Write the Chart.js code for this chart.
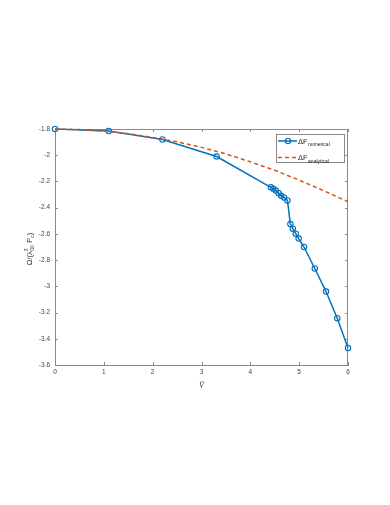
<!DOCTYPE html>
<html><head><meta charset="utf-8">
<script src="https://cdn.jsdelivr.net/npm/chart.js@4"></script>
<style>html,body{margin:0;padding:0;background:#fff;} canvas{display:block}</style>
</head><body>
<canvas id="c" width="390" height="505"></canvas>
<script>
const numX = [0, 1.1, 2.2, 3.31, 4.42, 4.47, 4.52, 4.58, 4.63, 4.69, 4.76, 4.82, 4.87, 4.93, 4.99, 5.10, 5.32, 5.55, 5.78, 6.0];
const numY = [-1.80, -1.815, -1.88, -2.01, -2.245, -2.255, -2.27, -2.29, -2.31, -2.322, -2.345, -2.525, -2.56, -2.598, -2.636, -2.70, -2.864, -3.04, -3.243, -3.47];
const anaX = [0, 0.5, 1, 1.5, 2, 2.5, 3, 3.5, 4, 4.5, 5, 5.5, 6];
const anaY = [-1.80, -1.804, -1.816, -1.836, -1.864, -1.898, -1.94, -1.99, -2.05, -2.115, -2.19, -2.27, -2.355];
const xTickValues = [0, 1, 2, 3, 4, 5, 6];
const yTickValues = [-1.8, -2, -2.2, -2.4, -2.6, -2.8, -3, -3.2, -3.4, -3.6];
const legendMain = ['\u0394F', '\u0394F'];
const legendSub = ['numerical', 'analytical'];

const BLUE = '#0072BD', ORANGE = '#D95319', AX = '#8a8a8a', TXT = '#444';
const FONT = '"Liberation Sans", Arial, sans-serif';

const framePlugin = {
  id: 'frame',
  beforeDatasetsDraw(chart) {
    const {ctx, chartArea: a, scales: {x, y}} = chart;
    ctx.save();
    ctx.strokeStyle = AX; ctx.lineWidth = 1;
    ctx.beginPath();
    ctx.moveTo(a.left, a.top + 0.5); ctx.lineTo(a.right, a.top + 0.5);
    ctx.moveTo(a.right - 0.5, a.top); ctx.lineTo(a.right - 0.5, a.bottom);
    xTickValues.forEach(v => {
      const p = Math.round(x.getPixelForValue(v)) + 0.5;
      ctx.moveTo(p, a.bottom); ctx.lineTo(p, a.bottom - 3);
      ctx.moveTo(p, a.top); ctx.lineTo(p, a.top + 3);
    });
    yTickValues.forEach(v => {
      const p = Math.round(y.getPixelForValue(v)) + 0.5;
      ctx.moveTo(a.left, p); ctx.lineTo(a.left + 3, p);
      ctx.moveTo(a.right, p); ctx.lineTo(a.right - 3, p);
    });
    ctx.stroke();
    ctx.restore();
  },
  afterDraw(chart) {
    const {ctx, chartArea: a} = chart;
    ctx.save();
    // legend
    const bx = 276.5, by = 134.5, bw = 68, bh = 28;
    ctx.fillStyle = '#fff'; ctx.fillRect(bx, by, bw, bh);
    ctx.strokeStyle = AX; ctx.lineWidth = 1; ctx.strokeRect(bx, by, bw, bh);
    const rows = [141, 157.5];
    ctx.strokeStyle = BLUE; ctx.lineWidth = 1.5; ctx.setLineDash([]);
    ctx.beginPath(); ctx.moveTo(278, rows[0]); ctx.lineTo(297, rows[0]); ctx.stroke();
    ctx.beginPath(); ctx.arc(288, rows[0], 2.7, 0, Math.PI * 2); ctx.lineWidth = 1.1; ctx.stroke();
    ctx.strokeStyle = ORANGE; ctx.lineWidth = 1.5; ctx.setLineDash([4, 3]);
    ctx.beginPath(); ctx.moveTo(278, rows[1]); ctx.lineTo(297, rows[1]); ctx.stroke();
    ctx.setLineDash([]);
    ctx.fillStyle = '#222'; ctx.textBaseline = 'alphabetic'; ctx.textAlign = 'left';
    for (let i = 0; i < 2; i++) {
      ctx.font = '7.5px ' + FONT;
      ctx.fillText(legendMain[i], 298, rows[i] + 2.6);
      const w = ctx.measureText(legendMain[i]).width;
      ctx.font = '5px ' + FONT;
      ctx.fillText(legendSub[i], 298 + w + 0.5, rows[i] + 5);
    }
    // y title
    ctx.save();
    ctx.translate(32, 249); ctx.rotate(-Math.PI / 2);
    ctx.fillStyle = '#333';
    const parts = [
      {t: '\u03A9/(\u03BB', s: 7.5, dy: 0},
      {stack: [{t: '3', s: 5, dy: -4}, {t: 'D0', s: 5, dy: 2.2}]},
      {t: ' P', s: 7.5, dy: 0},
      {t: 'c', s: 5, dy: 2.2},
      {t: ')', s: 7.5, dy: 0}
    ];
    const wOf = p => { ctx.font = p.s + 'px ' + FONT; return ctx.measureText(p.t).width; };
    let total = 0;
    parts.forEach(p => { p.w = p.stack ? Math.max(...p.stack.map(wOf)) : wOf(p); total += p.w; });
    let cx = -total / 2;
    parts.forEach(p => {
      const items = p.stack || [p];
      items.forEach(q => { ctx.font = q.s + 'px ' + FONT; ctx.fillText(q.t, cx, q.dy); });
      cx += p.w;
    });
    ctx.restore();
    // x title
    ctx.font = 'italic 8px "Liberation Serif", serif';
    ctx.textAlign = 'center'; ctx.fillStyle = '#333';
    ctx.fillText('V\u0303', (a.left + a.right) / 2, 388);
    ctx.restore();
  }
};

const tickFont = {family: FONT, size: 6.5};
new Chart(document.getElementById('c'), {
  type: 'scatter',
  data: {
    datasets: [
      {
        label: 'analytical',
        data: anaX.map((v, i) => ({x: v, y: anaY[i]})),
        showLine: true, borderColor: ORANGE, borderWidth: 1.5, borderDash: [4, 3],
        pointRadius: 0, clip: false, tension: 0
      },
      {
        label: 'numerical',
        data: numX.map((v, i) => ({x: v, y: numY[i]})),
        showLine: true, borderColor: BLUE, borderWidth: 1.5,
        pointRadius: 2.7, pointBorderWidth: 1.1, pointBorderColor: BLUE,
        pointBackgroundColor: 'rgba(0,0,0,0)', clip: false, tension: 0
      }
    ]
  },
  options: {
    responsive: false, devicePixelRatio: 1, animation: false,
    layout: {padding: {left: 0, top: 129, right: 42, bottom: 0}},
    plugins: {legend: {display: false}, tooltip: {enabled: false}, title: {display: false}},
    scales: {
      x: {
        type: 'linear', min: 0, max: 6,
        grid: {display: false, drawTicks: false},
        border: {display: true, color: AX, width: 1},
        ticks: {font: tickFont, color: TXT, padding: 3, maxRotation: 0, callback: v => String(v)},
        afterBuildTicks: s => { s.ticks = xTickValues.map(v => ({value: v})); },
        afterFit: s => { s.height = 140; }
      },
      y: {
        type: 'linear', min: -3.6, max: -1.8,
        grid: {display: false, drawTicks: false},
        border: {display: true, color: AX, width: 1},
        ticks: {font: tickFont, color: TXT, padding: 5, callback: v => String(Math.round(v * 10) / 10)},
        afterBuildTicks: s => { s.ticks = yTickValues.map(v => ({value: v})); },
        afterFit: s => { s.width = 55; }
      }
    }
  },
  plugins: [framePlugin]
});
</script>
</body></html>
